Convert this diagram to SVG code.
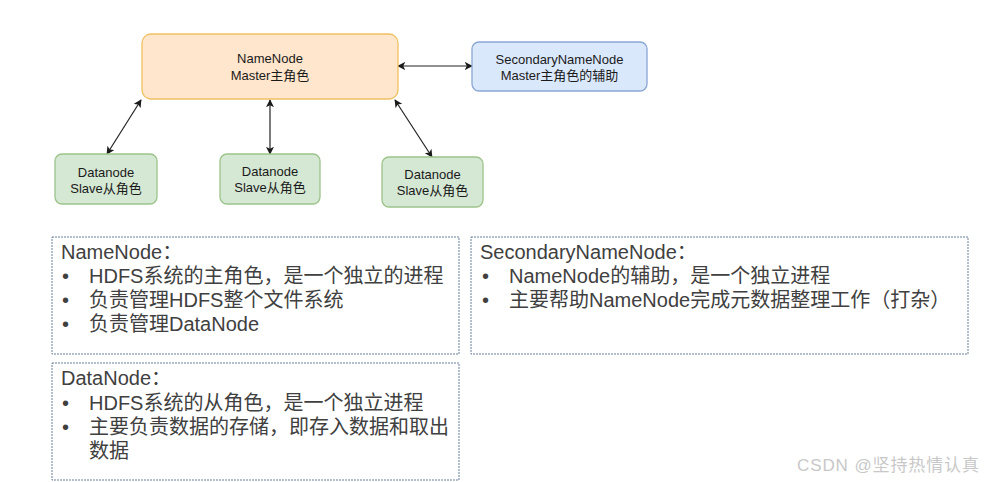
<svg xmlns="http://www.w3.org/2000/svg" width="986" height="482" viewBox="0 0 986 482">
<defs>
<marker id="arr" viewBox="0 0 10 10" refX="9" refY="5" markerWidth="8" markerHeight="8" markerUnits="userSpaceOnUse" orient="auto-start-reverse">
<path d="M0,0 L10,5 L0,10 L2.5,5 Z" fill="#1a1a1a"/>
</marker>
<style>
.nt{font-family:"Liberation Sans","Noto Sans CJK SC",sans-serif;font-size:13px;fill:#1a1a1a;text-anchor:middle;dominant-baseline:central}
.bt{font-family:"Liberation Sans","Noto Sans CJK SC",sans-serif;font-size:20px;fill:#404040;dominant-baseline:central}
.dash{fill:none;stroke:#6b7f99;stroke-width:1;stroke-dasharray:2 1}
.orange{fill:#ffe6cc;stroke:#f0c060;stroke-width:1.3}
.blue{fill:#dae8fc;stroke:#8aa6d4;stroke-width:1.3}
.green{fill:#d5e8d4;stroke:#9cc38a;stroke-width:1.3}
.con{stroke:#222;stroke-width:1.2;fill:none;marker-start:url(#arr);marker-end:url(#arr)}
</style>
</defs>
<rect width="986" height="482" fill="#ffffff"/>
<g id="connectors">
<line class="con" x1="398" y1="66" x2="472" y2="66"/>
<line class="con" x1="141" y1="100" x2="107" y2="154"/>
<line class="con" x1="270" y1="100" x2="270" y2="154"/>
<line class="con" x1="395" y1="100" x2="432" y2="157"/>
</g>
<g id="namenode">
<rect class="orange" x="142" y="34" width="256" height="65" rx="9"/>
<text class="nt" x="270" y="58">NameNode</text>
<text class="nt" x="270" y="75">Master主角色</text>
</g>
<g id="secondarynamenode">
<rect class="blue" x="472" y="42" width="175" height="49" rx="7"/>
<text class="nt" x="559.5" y="59">SecondaryNameNode</text>
<text class="nt" x="559.5" y="75">Master主角色的辅助</text>
</g>
<g id="datanode1">
<rect class="green" x="55" y="154" width="102" height="50" rx="7"/>
<text class="nt" x="106" y="172">Datanode</text>
<text class="nt" x="106" y="188">Slave从角色</text>
</g>
<g id="datanode2">
<rect class="green" x="220" y="154" width="100" height="50" rx="7"/>
<text class="nt" x="270" y="171">Datanode</text>
<text class="nt" x="270" y="187">Slave从角色</text>
</g>
<g id="datanode3">
<rect class="green" x="382" y="157" width="101" height="50" rx="7"/>
<text class="nt" x="432.5" y="174">Datanode</text>
<text class="nt" x="432.5" y="190">Slave从角色</text>
</g>
<g id="namenode-desc">
<rect class="dash" x="52" y="237" width="407" height="117"/>
<text class="bt" x="61" y="252">NameNode：</text>
<text class="bt" x="62" y="276">•</text>
<text class="bt" x="89" y="276">HDFS系统的主角色，是一个独立的进程</text>
<text class="bt" x="62" y="300">•</text>
<text class="bt" x="89" y="300">负责管理HDFS整个文件系统</text>
<text class="bt" x="62" y="324">•</text>
<text class="bt" x="89" y="324">负责管理DataNode</text>
</g>
<g id="secondarynamenode-desc">
<rect class="dash" x="471" y="237" width="497" height="117"/>
<text class="bt" x="480" y="252">SecondaryNameNode：</text>
<text class="bt" x="482" y="276">•</text>
<text class="bt" x="509" y="276">NameNode的辅助，是一个独立进程</text>
<text class="bt" x="482" y="300">•</text>
<text class="bt" x="509" y="300">主要帮助NameNode完成元数据整理工作（打杂）</text>
</g>
<g id="datanode-desc">
<rect class="dash" x="52" y="363" width="407" height="117"/>
<text class="bt" x="61" y="378">DataNode：</text>
<text class="bt" x="62" y="403">•</text>
<text class="bt" x="89" y="403">HDFS系统的从角色，是一个独立进程</text>
<text class="bt" x="62" y="427">•</text>
<text class="bt" x="89" y="427">主要负责数据的存储，即存入数据和取出</text>
<text class="bt" x="89" y="451">数据</text>
</g>
<text x="797" y="465" font-family="'Liberation Sans','Noto Sans CJK SC',sans-serif" font-size="17" fill="#c8c8c8" dominant-baseline="central" textLength="182">CSDN @坚持热情认真</text>
</svg>
